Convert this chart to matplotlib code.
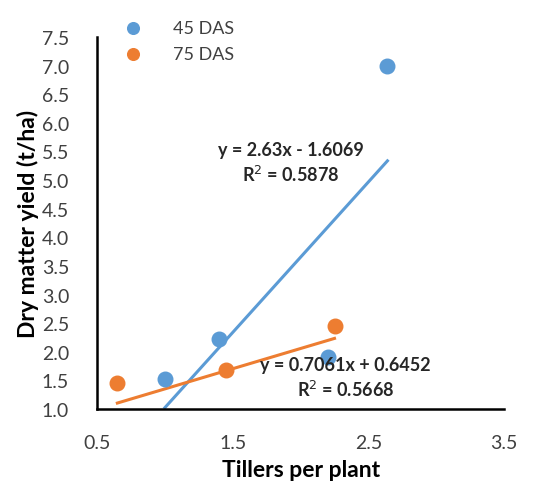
import numpy as np
import matplotlib.pyplot as plt

plt.rcParams['font.family'] = ['Lato', 'DejaVu Sans']

# data
x45 = [1.0, 1.40, 2.20, 2.64]
y45 = [1.52, 2.22, 1.91, 7.0]
x75 = [0.65, 1.45, 2.25]
y75 = [1.45, 1.69, 2.45]

# trendline equations as printed on the chart
slope45, icpt45, r2_45 = 2.63, -1.6069, 0.5878
slope75, icpt75, r2_75 = 0.7061, 0.6452, 0.5668

blue = '#5B9BD5'
orange = '#ED7D31'
grey = '#404040'

fig = plt.figure(figsize=(5.48, 4.85), dpi=100)
ax = fig.add_axes([0.177, 0.1546, 0.743, 0.767])

ax.scatter(x45, y45, s=110, color=blue, zorder=3, label='45 DAS')
ax.scatter(x75, y75, s=110, color=orange, zorder=3, label='75 DAS')

xl45 = np.array([min(x45), max(x45)])
ax.plot(xl45, slope45 * xl45 + icpt45, color=blue, linewidth=2.2, zorder=2)
xl75 = np.array([min(x75), max(x75)])
ax.plot(xl75, slope75 * xl75 + icpt75, color=orange, linewidth=2.2, zorder=2)

ax.text(1.93, 5.3, f'y = {slope45}x - {abs(icpt45)}\nR$^2$ = {r2_45}',
        ha='center', va='center', fontsize=13, fontweight='bold',
        color='#262626', linespacing=1.35)
ax.text(2.33, 1.55, f'y = {slope75}x + {icpt75}\nR$^2$ = {r2_75}',
        ha='center', va='center', fontsize=13, fontweight='bold',
        color='#262626', linespacing=1.35)

ax.set_xlim(0.5, 3.5)
ax.set_ylim(1.0, 7.5)
ax.set_xticks([0.5, 1.5, 2.5, 3.5])
ax.set_yticks(np.arange(1.0, 7.51, 0.5))
ax.set_yticklabels([f'{v:.1f}' for v in np.arange(1.0, 7.51, 0.5)])
ax.tick_params(length=0, labelsize=14, colors=grey)
ax.tick_params(axis='y', pad=20)
ax.tick_params(axis='x', pad=18)

for s in ['top', 'right']:
    ax.spines[s].set_visible(False)
for s in ['left', 'bottom']:
    ax.spines[s].set_linewidth(1.8)
    ax.spines[s].set_color('black')

ax.set_xlabel('Tillers per plant', fontsize=16.5, fontweight='bold', labelpad=6)
ax.set_ylabel('Dry matter yield (t/ha)', fontsize=16.5, fontweight='bold', labelpad=2)

fig.legend(loc='center left', bbox_to_anchor=(0.21, 0.914), frameon=False,
           fontsize=13, labelcolor=grey, handletextpad=1.2, markerscale=0.8,
           labelspacing=0.55, borderpad=0, borderaxespad=0)

fig.savefig('out.png', dpi=100)
